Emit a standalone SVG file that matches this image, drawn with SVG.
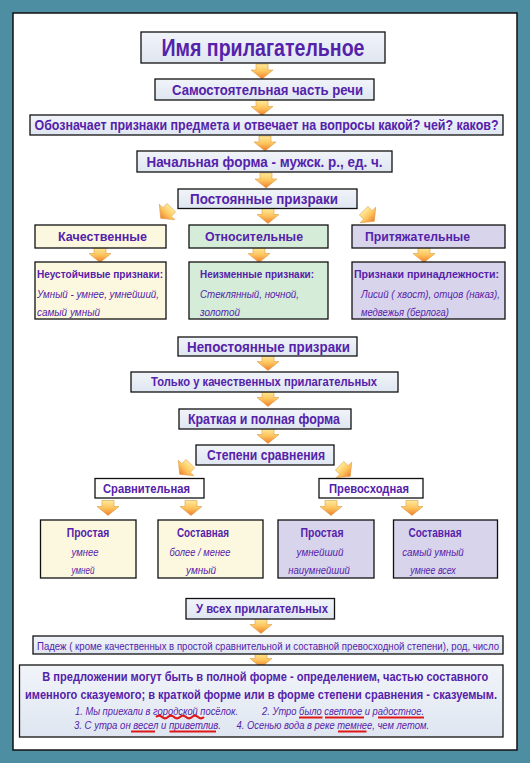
<svg xmlns="http://www.w3.org/2000/svg" width="530" height="763" viewBox="0 0 530 763">
<defs>
<linearGradient id="gBox" x1="0" y1="0" x2="0" y2="1"><stop offset="0" stop-color="#f1f4f9"/><stop offset="1" stop-color="#dfe6f1"/></linearGradient>
<linearGradient id="gArr" x1="0" y1="0" x2="0" y2="1"><stop offset="0" stop-color="#ffeb9a"/><stop offset="0.5" stop-color="#fcc45c"/><stop offset="1" stop-color="#ee7d2e"/></linearGradient>
<path id="arr" d="M-6,-7.5 H6 V-1.5 H11 L0,7.5 L-11,-1.5 H-6 Z" fill="url(#gArr)" stroke="#e39a45" stroke-width="0.6"/>
</defs>
<style>
.b{stroke:#111;stroke-width:1.3;fill:url(#gBox)}
.w{stroke:#111;stroke-width:1.3;fill:#fff}
.cr{stroke:#111;stroke-width:1.3;fill:#fcf8df}
.gr{stroke:#111;stroke-width:1.3;fill:#d4ecd8}
.lv{stroke:#111;stroke-width:1.3;fill:#d8d4ec}
text{font-family:"Liberation Sans",Arial,sans-serif;fill:#5522aa}
.h{font-weight:bold;text-anchor:middle}
.s{font-weight:bold;font-size:10px}
.i{font-style:italic;font-size:10px}
.ic{font-style:italic;font-size:10px;text-anchor:middle}
.u{stroke:#e01818;stroke-width:2.2;fill:none}
</style>
<rect x="0" y="0" width="530" height="763" fill="#4e8ea3"/>
<rect x="13" y="13" width="504" height="737" fill="#fff" stroke="#111" stroke-width="1.5"/>

<g id="connectors">
<use href="#arr" transform="translate(262,71.5)"/>
<use href="#arr" transform="translate(262,108)"/>
<use href="#arr" transform="translate(265,143.5)"/>
<use href="#arr" transform="translate(266,180.5)"/>
<use href="#arr" transform="translate(268,216)"/>
<use href="#arr" transform="translate(166,213) rotate(45)"/>
<use href="#arr" transform="translate(369,216) rotate(-45)"/>
<use href="#arr" transform="translate(100,255)"/>
<use href="#arr" transform="translate(259,255)"/>
<use href="#arr" transform="translate(424,255)"/>
<use href="#arr" transform="translate(268,363)"/>
<use href="#arr" transform="translate(268,399)"/>
<use href="#arr" transform="translate(268,436)"/>
<use href="#arr" transform="translate(185,469) rotate(45)"/>
<use href="#arr" transform="translate(345,471) rotate(-45)"/>
<use href="#arr" transform="translate(108,508)"/>
<use href="#arr" transform="translate(191,508)"/>
<use href="#arr" transform="translate(331,508)"/>
<use href="#arr" transform="translate(412,508)"/>
<use href="#arr" transform="translate(261,626)"/>
<use href="#arr" transform="translate(261,660)"/>
</g>

<g id="title"><rect class="b" x="141" y="32" width="244" height="31"/><text class="h" x="263" y="55.5" font-size="23" textLength="203" lengthAdjust="spacingAndGlyphs">Имя прилагательное</text></g>
<g id="samost"><rect class="b" x="155" y="79" width="219" height="21"/><text class="h" x="267.5" y="94.5" font-size="14" textLength="191" lengthAdjust="spacingAndGlyphs">Самостоятельная часть речи</text></g>
<g id="oboz"><rect class="b" x="30" y="115" width="473" height="20"/><text class="h" x="266.5" y="130" font-size="14" textLength="464" lengthAdjust="spacingAndGlyphs">Обозначает признаки предмета и отвечает на вопросы какой?  чей?  каков?</text></g>
<g id="nach"><rect class="b" x="137" y="151" width="255" height="21"/><text class="h" x="264.5" y="166.5" font-size="14" textLength="236" lengthAdjust="spacingAndGlyphs">Начальная форма - мужск. р., ед. ч.</text></g>
<g id="post"><rect class="b" x="178" y="189" width="179" height="19.5"/><text class="h" x="264" y="203.5" font-size="14" textLength="148" lengthAdjust="spacingAndGlyphs">Постоянные призраки</text></g>

<g id="kach"><rect class="cr" x="35" y="225" width="131" height="23"/><text class="h" x="102.5" y="241" font-size="13" textLength="89" lengthAdjust="spacingAndGlyphs">Качественные</text></g>
<g id="otn"><rect class="gr" x="189" y="225" width="139" height="23"/><text class="h" x="254" y="241" font-size="13" textLength="98" lengthAdjust="spacingAndGlyphs">Относительные</text></g>
<g id="prit"><rect class="lv" x="352" y="225" width="153" height="23"/><text class="h" x="417.5" y="241" font-size="13" textLength="105" lengthAdjust="spacingAndGlyphs">Притяжательные</text></g>

<g id="kach-d"><rect class="cr" x="35" y="262" width="131" height="57"/>
<text class="s" x="37" y="278" textLength="126" lengthAdjust="spacingAndGlyphs">Неустойчивые признаки:</text>
<text class="i" x="37" y="298" textLength="122" lengthAdjust="spacingAndGlyphs">Умный - умнее,  умнейший,</text>
<text class="i" x="37" y="316" textLength="63" lengthAdjust="spacingAndGlyphs">самый умный</text></g>
<g id="otn-d"><rect class="gr" x="189" y="262" width="139" height="57"/>
<text class="s" x="200" y="278" textLength="114" lengthAdjust="spacingAndGlyphs">Неизменные признаки:</text>
<text class="i" x="200" y="298" textLength="99" lengthAdjust="spacingAndGlyphs">Стеклянный, ночной,</text>
<text class="i" x="200" y="316" textLength="40" lengthAdjust="spacingAndGlyphs">золотой</text></g>
<g id="prit-d"><rect class="lv" x="352" y="262" width="153" height="57"/>
<text class="s" x="354" y="278" textLength="145" lengthAdjust="spacingAndGlyphs">Признаки принадлежности:</text>
<text class="i" x="361" y="298" textLength="139" lengthAdjust="spacingAndGlyphs">Лисий ( хвост), отцов (наказ),</text>
<text class="i" x="361" y="316" textLength="88" lengthAdjust="spacingAndGlyphs">медвежья (берлога)</text></g>

<g id="nepost"><rect class="b" x="178" y="337" width="179" height="19"/><text class="h" x="268.5" y="351.5" font-size="14" textLength="163" lengthAdjust="spacingAndGlyphs">Непостоянные призраки</text></g>
<g id="tolko"><rect class="b" x="131" y="372" width="267" height="20"/><text class="h" x="264" y="386" font-size="12" textLength="226" lengthAdjust="spacingAndGlyphs">Только у качественных прилагательных</text></g>
<g id="krat"><rect class="b" x="179" y="409" width="172" height="20"/><text class="h" x="264" y="423.5" font-size="14" textLength="152" lengthAdjust="spacingAndGlyphs">Краткая и полная форма</text></g>
<g id="step"><rect class="b" x="196" y="445" width="138" height="20"/><text class="h" x="266" y="460" font-size="14" textLength="118" lengthAdjust="spacingAndGlyphs">Степени сравнения</text></g>

<g id="sravn"><rect class="w" x="95" y="478.5" width="109" height="19.5"/><text class="h" x="146.5" y="493" font-size="13" textLength="87" lengthAdjust="spacingAndGlyphs">Сравнительная</text></g>
<g id="prev"><rect class="w" x="319" y="478.5" width="104" height="19.5"/><text class="h" x="369" y="493" font-size="13" textLength="80" lengthAdjust="spacingAndGlyphs">Превосходная</text></g>

<g id="sr-prost"><rect class="cr" x="40.5" y="520" width="95.5" height="58"/>
<text class="h" x="88" y="537" font-size="12" textLength="42.5" lengthAdjust="spacingAndGlyphs">Простая</text>
<text class="ic" x="85" y="556" textLength="27" lengthAdjust="spacingAndGlyphs">умнее</text>
<text class="ic" x="83" y="574" textLength="23" lengthAdjust="spacingAndGlyphs">умней</text></g>
<g id="sr-sost"><rect class="cr" x="158" y="520" width="105" height="58"/>
<text class="h" x="203" y="537" font-size="12" textLength="52" lengthAdjust="spacingAndGlyphs">Составная</text>
<text class="ic" x="200" y="556" textLength="61" lengthAdjust="spacingAndGlyphs">более / менее</text>
<text class="ic" x="201" y="574" textLength="30" lengthAdjust="spacingAndGlyphs">умный</text></g>
<g id="pr-prost"><rect class="lv" x="278" y="520" width="96" height="58"/>
<text class="h" x="322" y="537" font-size="12" textLength="43" lengthAdjust="spacingAndGlyphs">Простая</text>
<text class="ic" x="320" y="556" textLength="47" lengthAdjust="spacingAndGlyphs">умнейший</text>
<text class="ic" x="319" y="574" textLength="61.5" lengthAdjust="spacingAndGlyphs">наиумнейший</text></g>
<g id="pr-sost"><rect class="lv" x="393.5" y="520" width="104" height="58"/>
<text class="h" x="435" y="537" font-size="12" textLength="53" lengthAdjust="spacingAndGlyphs">Составная</text>
<text class="ic" x="433" y="556" textLength="61.5" lengthAdjust="spacingAndGlyphs">самый умный</text>
<text class="ic" x="433" y="574" textLength="45.6" lengthAdjust="spacingAndGlyphs">умнее всех</text></g>

<g id="vseh"><rect class="b" x="186" y="598.5" width="148.5" height="20.5"/><text class="h" x="262" y="613" font-size="13" textLength="132" lengthAdjust="spacingAndGlyphs">У всех прилагательных</text></g>
<g id="padezh"><rect class="b" x="33" y="636" width="470" height="18"/><text x="268" y="649.5" font-size="10" text-anchor="middle" textLength="462" lengthAdjust="spacingAndGlyphs">Падеж ( кроме качественных в простой сравнительной и составной превосходной степени), род, число</text></g>

<g id="rol"><rect class="b" x="19.5" y="665" width="483.5" height="72"/>
<text class="h" x="265.3" y="681" font-size="13.5" textLength="446" lengthAdjust="spacingAndGlyphs">В предложении могут быть в полной форме - определением, частью составного</text>
<text class="h" x="261" y="698.5" font-size="13.5" textLength="472" lengthAdjust="spacingAndGlyphs">именного сказуемого; в краткой форме или в форме степени сравнения - сказуемым.</text>
<text class="i" x="75" y="714.5" textLength="163" lengthAdjust="spacingAndGlyphs">1. Мы приехали в городской посёлок.</text>
<text class="i" x="262" y="714.5" textLength="162" lengthAdjust="spacingAndGlyphs">2. Утро было светлое и радостное.</text>
<text class="i" x="74" y="728.5" textLength="147" lengthAdjust="spacingAndGlyphs">3. С утра он весел и приветлив.</text>
<text class="i" x="236.5" y="728.5" textLength="192.5" lengthAdjust="spacingAndGlyphs">4. Осенью вода в реке темнее, чем летом.</text>
<path class="u" stroke-width="1.6" d="M156,717 q3,-3 6,0 t6,0 t6,0 t6,0 t6,0 t6,0 t6,0 t6,0"/>
<path class="u" d="M299,717.5 H322.5 M325,717.5 H364 M378,717.5 H424 M131,731.5 H155 M169.5,731.5 H216 M338,731.5 H366.5"/>
</g>
</svg>
